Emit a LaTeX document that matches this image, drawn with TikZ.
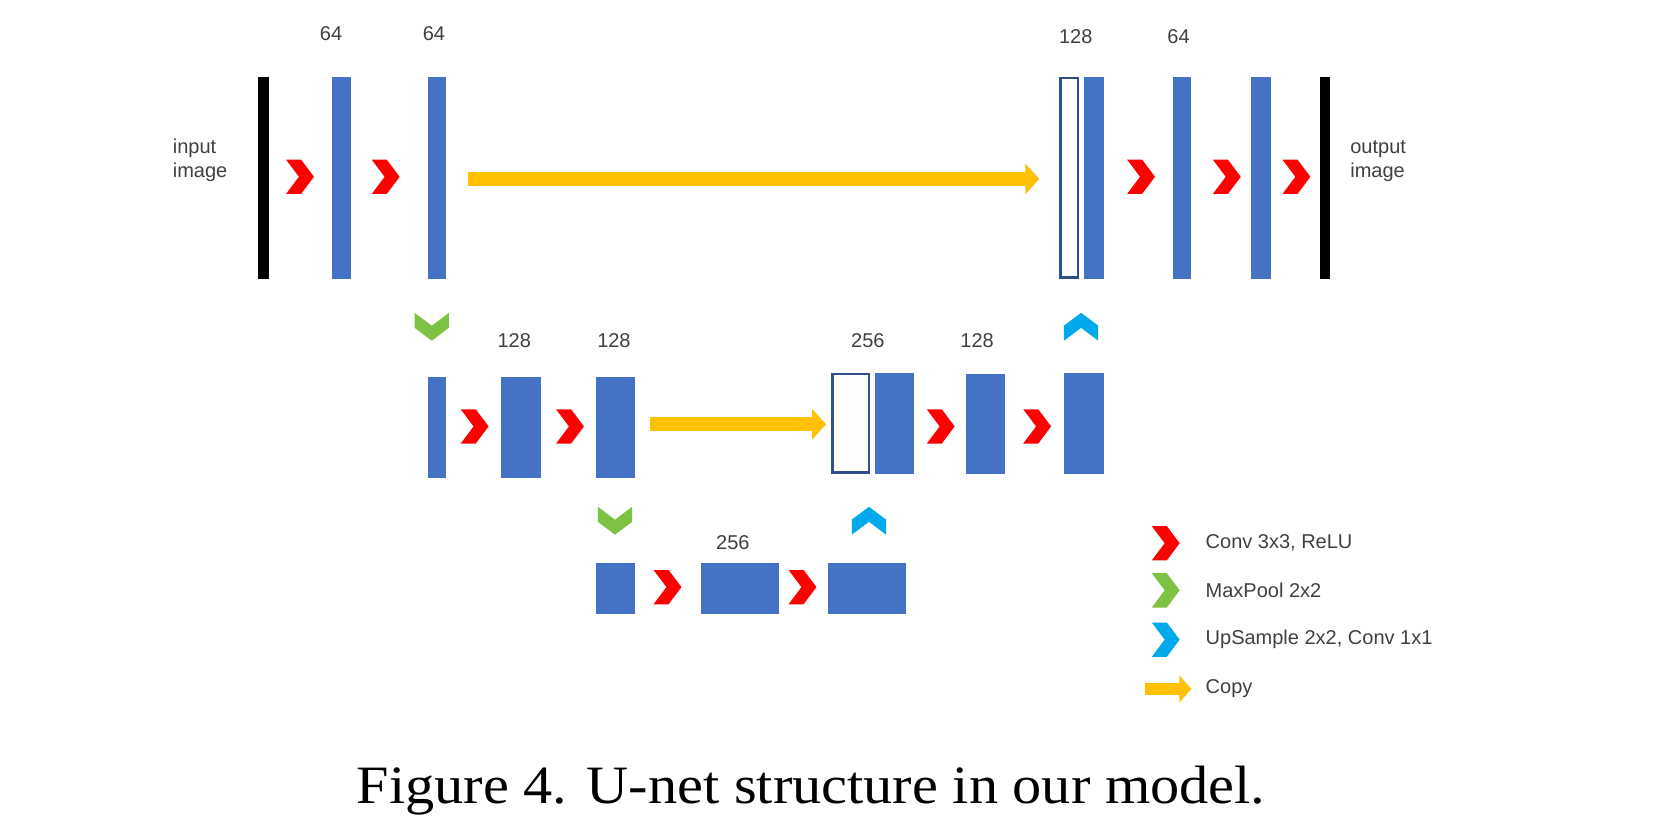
\documentclass[tikz,border=0pt]{standalone}
\usepackage{fontspec}
\setmainfont{Liberation Serif}
\newfontfamily\lab{Liberation Sans}
\usetikzlibrary{arrows.meta}
\definecolor{bblue}{HTML}{4472C4}
\definecolor{cred}{HTML}{FF0000}
\definecolor{cgreen}{HTML}{7DC242}
\definecolor{ccyan}{HTML}{00A8EC}
\definecolor{cyel}{HTML}{FFC000}
\definecolor{tgray}{HTML}{404040}
\begin{document}
\begin{tikzpicture}[x=1.0714pt,y=-1.0714pt,
  bar/.style={fill=bblue,draw=none},
  hol/.style={fill=white,draw=bblue!70!black,line width=2.5pt},
  lbl/.style={font=\lab\fontsize{20}{24}\selectfont,text=tgray},
  chev/.pic={\fill[#1] (-13,-16)--(1,-16)--(13,0)--(1,16)--(-13,16)--(-1,0)--cycle;},
  copy/.style={draw=cyel,line width=14pt,-{Triangle[length=14pt,width=30pt]}}]
\useasboundingbox (0,0) rectangle (1568,773);
% top row
\fill[black] (241,72) rectangle (251,260);
\fill[bblue] (310,72) rectangle (328,260);
\fill[bblue] (399,72) rectangle (416,260);
\draw[hol] (990,73) rectangle (1006,259);
\fill[bblue] (1012,72) rectangle (1030,260);
\fill[bblue] (1095,72) rectangle (1112,260);
\fill[bblue] (1168,72) rectangle (1186,260);
\fill[black] (1232,72) rectangle (1241,260);
\coordinate (c1s) at (437,167); \coordinate (c1e) at (970,167);
\draw[copy] (c1s) -- (c1e);
\node[lbl] (l1) at (309,31) {64};
\node[lbl] (l2) at (405,31) {64};
\node[lbl] (l3) at (1004,34) {128};
\node[lbl] (l4) at (1100,34) {64};
\node[lbl,align=left,anchor=west] (in) at (158,150) {input\\image};
\node[lbl,align=left,anchor=west] (out) at (1257,150) {output\\image};
\foreach \x in {280,360,1065,1145,1210} \pic at (\x,165) {chev=cred};
\pic[rotate=-90] at (403,305) {chev=cgreen};
\pic[rotate=90] at (1009,305) {chev=ccyan};
% middle row
\fill[bblue] (399,352) rectangle (416,446);
\fill[bblue] (468,352) rectangle (505,446);
\fill[bblue] (556,352) rectangle (593,446);
\draw[hol] (777,349) rectangle (811,441);
\fill[bblue] (817,348) rectangle (853,442);
\fill[bblue] (902,349) rectangle (938,442);
\fill[bblue] (993,348) rectangle (1030,442);
\coordinate (c2s) at (607,396); \coordinate (c2e) at (771,396);
\draw[copy] (c2s) -- (c2e);
\node[lbl] at (480,318) {128};
\node[lbl] at (573,318) {128};
\node[lbl] at (810,318) {256};
\node[lbl] at (912,318) {128};
\foreach \x in {443,532,878,968} \pic at (\x,398) {chev=cred};
\pic[rotate=-90] at (574,486) {chev=cgreen};
\pic[rotate=90] at (811,486) {chev=ccyan};
% bottom row
\fill[bblue] (556,525) rectangle (593,573);
\fill[bblue] (654,525) rectangle (727,573);
\fill[bblue] (773,525) rectangle (846,573);
\node[lbl] at (684,506) {256};
\foreach \x in {623,749} \pic at (\x,548) {chev=cred};
% legend
\pic at (1088,507) {chev=cred};
\pic at (1088,551) {chev=cgreen};
\pic at (1088,597) {chev=ccyan};
\coordinate (ls) at (1069,643); \coordinate (le) at (1112,643);
\draw[copy,line width=12pt,-{Triangle[length=12pt,width=26pt]}] (ls) -- (le);
\node[lbl,anchor=west] at (1122,507) {Conv 3x3, ReLU};
\node[lbl,anchor=west] at (1122,551) {MaxPool 2x2};
\node[lbl,anchor=west] at (1122,597) {UpSample 2x2, Conv 1x1};
\node[lbl,anchor=west] at (1122,643) {Copy};
% caption
\node[font=\fontsize{54}{60}\selectfont,xscale=1.08] (cap) at (757,738) {Figure 4. U-net structure in our model.};
\end{tikzpicture}
\end{document}
